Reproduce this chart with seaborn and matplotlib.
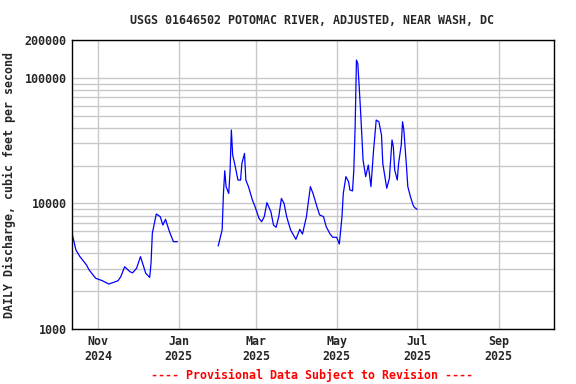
import matplotlib
matplotlib.use("Agg")
import matplotlib.pyplot as plt
import matplotlib.dates as mdates
from matplotlib.ticker import FixedLocator, NullFormatter, LogLocator
import seaborn as sns
import pandas as pd

# Segment 1 (Oct - Dec 2024)
dates1 = ["2024-10-12", "2024-10-15", "2024-10-18", "2024-10-23", "2024-10-25",
          "2024-10-30", "2024-11-04", "2024-11-09", "2024-11-16", "2024-11-18",
          "2024-11-21", "2024-11-25", "2024-11-27", "2024-11-30", "2024-12-03",
          "2024-12-05", "2024-12-07", "2024-12-10", "2024-12-11", "2024-12-12",
          "2024-12-15", "2024-12-18", "2024-12-20", "2024-12-22", "2024-12-25",
          "2024-12-28", "2024-12-31"]
flow1 = [5780, 4256, 3770, 3236, 2950,
         2535, 2425, 2280, 2425, 2606,
         3130, 2858, 2800, 3040, 3770,
         3236, 2775, 2575, 3335, 5780,
         8240, 7840, 6730, 7470, 5960,
         4960, 4960]

# Segment 2 (Jan 31 - Jul 1 2025)
dates2 = ["2025-01-31", "2025-02-03", "2025-02-04", "2025-02-05", "2025-02-06",
          "2025-02-08", "2025-02-09", "2025-02-10", "2025-02-11", "2025-02-13",
          "2025-02-15", "2025-02-17", "2025-02-18", "2025-02-20", "2025-02-21",
          "2025-02-23", "2025-02-26", "2025-02-28", "2025-03-03", "2025-03-05",
          "2025-03-07", "2025-03-09", "2025-03-12", "2025-03-14", "2025-03-16",
          "2025-03-18", "2025-03-20", "2025-03-22", "2025-03-24", "2025-03-27",
          "2025-03-31", "2025-04-03", "2025-04-05", "2025-04-08", "2025-04-11",
          "2025-04-13", "2025-04-16", "2025-04-18", "2025-04-21", "2025-04-23",
          "2025-04-26", "2025-04-28", "2025-05-01", "2025-05-03", "2025-05-05",
          "2025-05-06", "2025-05-08", "2025-05-10", "2025-05-11", "2025-05-13",
          "2025-05-14", "2025-05-15", "2025-05-16", "2025-05-17", "2025-05-18",
          "2025-05-19", "2025-05-20", "2025-05-21", "2025-05-23", "2025-05-25",
          "2025-05-27", "2025-05-29", "2025-05-31", "2025-06-02", "2025-06-04",
          "2025-06-05", "2025-06-08", "2025-06-10", "2025-06-12", "2025-06-13",
          "2025-06-14", "2025-06-16", "2025-06-17", "2025-06-19", "2025-06-20",
          "2025-06-21", "2025-06-23", "2025-06-24", "2025-06-26", "2025-06-28",
          "2025-06-29", "2025-07-01"]
flow2 = [4580, 6140, 12000, 18200, 13600,
         12000, 17900, 38400, 24300, 19600,
         15350, 15350, 20800, 25000, 15350,
         13600, 10640, 9420, 7600, 7150,
         7840, 10140, 8590, 6730, 6450,
         7840, 10960, 10000, 7840, 6140,
         5180, 6220, 5700, 7840, 13600,
         12000, 9420, 8100, 7840, 6530,
         5700, 5370, 5370, 4750, 7840,
         12000, 16330, 14900, 12800, 12570,
         18470, 40800, 138600, 130400, 87700,
         57200, 36100, 22200, 16330, 20200,
         13600, 26600, 46100, 44700, 35100,
         20800, 13200, 15860, 32000, 28300,
         18470, 15350, 20800, 29200, 44700,
         38400, 19600, 13600, 11300, 9700,
         9300, 8980]

tick_dates = ["2024-11-01", "2025-01-01", "2025-03-01", "2025-05-01", "2025-07-01", "2025-09-01"]
tick_labels = ["Nov\n2024", "Jan\n2025", "Mar\n2025", "May\n2025", "Jul\n2025", "Sep\n2025"]
y_ticks = [1000, 10000, 100000, 200000]
y_labels = ["1000", "10000", "100000", "200000"]

title = "USGS 01646502 POTOMAC RIVER, ADJUSTED, NEAR WASH, DC"
ylabel = "DAILY Discharge, cubic feet per second"
footer = "---- Provisional Data Subject to Revision ----"

sns.set_style("white")
plt.rcParams["font.family"] = ["DejaVu Sans Mono"]
plt.rcParams["font.weight"] = "bold"

df1 = pd.DataFrame({"date": pd.to_datetime(dates1), "flow": flow1})
df2 = pd.DataFrame({"date": pd.to_datetime(dates2), "flow": flow2})

fig = plt.figure(figsize=(5.76, 3.84), dpi=100)
ax = fig.add_axes([72/576, 1-329/384, (554-72)/576, (329-40)/384])

sns.lineplot(data=df1, x="date", y="flow", ax=ax, color="#0000ff", lw=0.9)
sns.lineplot(data=df2, x="date", y="flow", ax=ax, color="#0000ff", lw=0.9)

ax.set_yscale("log")
ax.set_ylim(1000, 200000)
ax.set_xlim(pd.Timestamp("2024-10-12"), pd.Timestamp("2025-10-13"))

ax.set_yticks(y_ticks)
ax.set_yticklabels(y_labels, fontsize=8.4, fontweight="bold")
ax.yaxis.set_minor_locator(LogLocator(base=10, subs=range(2, 10)))
ax.yaxis.set_minor_formatter(NullFormatter())
ax.set_xticks(pd.to_datetime(tick_dates))
ax.set_xticklabels(tick_labels, fontsize=8.4, fontweight="bold")
ax.tick_params(axis="both", which="both", length=0, pad=4)

ax.grid(True, which="major", axis="both", color="#c8c8c8", lw=1.0)
ax.grid(True, which="minor", axis="y", color="#c8c8c8", lw=1.0)
ax.set_axisbelow(True)
for s in ax.spines.values():
    s.set_color("black")
    s.set_linewidth(1.0)

ax.set_xlabel("")
ax.set_ylabel(ylabel, fontsize=8.4, fontweight="bold", labelpad=6)
fig.text(312/576, 1-20/384, title, ha="center", va="center", fontsize=8.4, fontweight="bold")
fig.text(312/576, 1-375/384, footer, ha="center", va="center", fontsize=8.4, fontweight="bold", color="#ff0000")

fig.savefig("out.png", dpi=100, facecolor="white")
